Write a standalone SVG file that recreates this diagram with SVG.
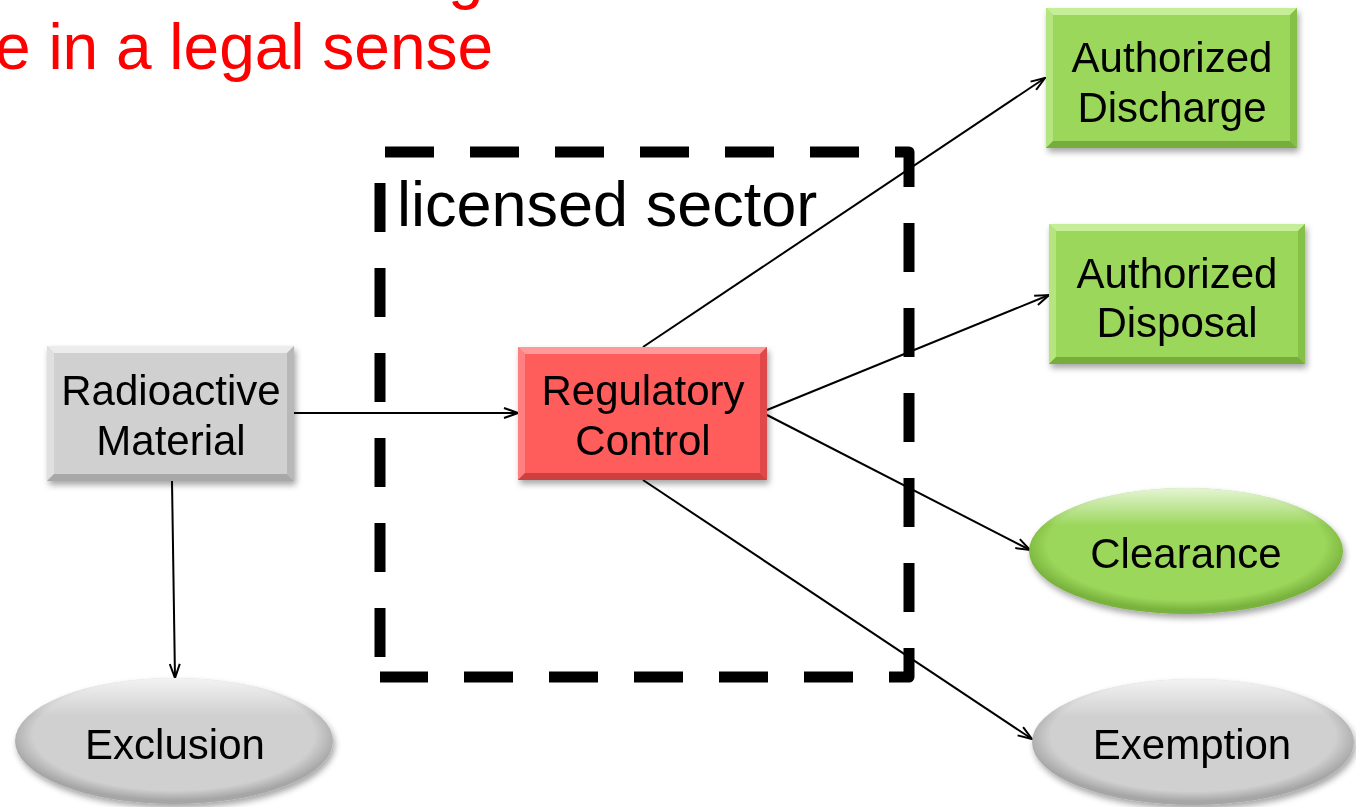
<svg xmlns="http://www.w3.org/2000/svg" width="1356" height="807" viewBox="0 0 1356 807">
  <style>
    .lbl { font-family: "Liberation Sans", Arial, sans-serif; font-size: 42px; fill: #000; text-anchor: middle; }
    .title { font-family: "Liberation Sans", Arial, sans-serif; font-size: 64px; fill: #ff0000; }
    .sector { font-family: "Liberation Sans", Arial, sans-serif; font-size: 63px; fill: #000; }
    .conn { stroke: #000; stroke-width: 2; fill: none; marker-end: url(#arrow); }
  </style>
  <defs>
    <marker id="arrow" viewBox="0 0 16 12" refX="15" refY="6" markerWidth="16" markerHeight="12" markerUnits="userSpaceOnUse" orient="auto">
      <path d="M1,1 L15,6 L1,11" fill="none" stroke="#000" stroke-width="2"/>
    </marker>
    <filter id="shadow" x="-10%" y="-10%" width="125%" height="130%">
      <feDropShadow dx="2" dy="4" stdDeviation="3" flood-color="#000" flood-opacity="0.35"/>
    </filter>
    <radialGradient id="ellGreen" cx="50%" cy="45%" r="52%">
      <stop offset="0%" stop-color="#9bd75a"/>
      <stop offset="85%" stop-color="#9bd75a"/>
      <stop offset="100%" stop-color="#79b23e"/>
    </radialGradient>
    <radialGradient id="ellGray" cx="50%" cy="45%" r="52%">
      <stop offset="0%" stop-color="#d0d0d0"/>
      <stop offset="85%" stop-color="#d0d0d0"/>
      <stop offset="100%" stop-color="#a6a6a6"/>
    </radialGradient>
    <linearGradient id="rimLight" x1="0" y1="0" x2="0" y2="1">
      <stop offset="0%" stop-color="#ffffff" stop-opacity="0.75"/>
      <stop offset="30%" stop-color="#ffffff" stop-opacity="0"/>
    </linearGradient>
  </defs>

  <!-- cropped heading text -->
  <text class="title" x="448" y="-3">g</text>
  <text class="title" x="-5" y="69">e in a legal sense</text>

  <!-- licensed sector boundary -->
  <g id="licensed-sector">
    <path d="M380,677 V152 H909 V677 Z" fill="none" stroke="#000" stroke-width="11" stroke-dasharray="49 36" stroke-dashoffset="65" stroke-linejoin="round"/>
    <text class="sector" x="397" y="226">licensed sector</text>
  </g>

  <!-- connectors -->
  <g id="connectors">
    <line class="conn" x1="294" y1="413" x2="518" y2="413"/>
    <line class="conn" x1="172" y1="481" x2="175" y2="678"/>
    <line class="conn" x1="643" y1="347" x2="1045" y2="78"/>
    <line class="conn" x1="767" y1="410" x2="1049" y2="295"/>
    <line class="conn" x1="767" y1="415" x2="1030" y2="550"/>
    <line class="conn" x1="643" y1="480" x2="1032" y2="739"/>
  </g>

  <!-- Radioactive Material -->
  <g id="radioactive-material" filter="url(#shadow)">
    <rect x="47" y="346" width="247" height="135" fill="#d0d0d0"/>
    <polygon points="47,346 294,346 287,353 54,353" fill="#ececec"/>
    <polygon points="47,346 54,353 54,474 47,481" fill="#e0e0e0"/>
    <polygon points="294,346 294,481 287,474 287,353" fill="#b8b8b8"/>
    <polygon points="47,481 54,474 287,474 294,481" fill="#a8a8a8"/>
    <text class="lbl" x="171" y="405">Radioactive</text>
    <text class="lbl" x="171" y="455">Material</text>
  </g>

  <!-- Regulatory Control -->
  <g id="regulatory-control" filter="url(#shadow)">
    <rect x="518" y="347" width="249" height="133" fill="#ff5b5b"/>
    <polygon points="518,347 767,347 760,354 525,354" fill="#ff9a9a"/>
    <polygon points="518,347 525,354 525,473 518,480" fill="#ff8080"/>
    <polygon points="767,347 767,480 760,473 760,354" fill="#e04848"/>
    <polygon points="518,480 525,473 760,473 767,480" fill="#cc3f3f"/>
    <text class="lbl" x="643" y="405">Regulatory</text>
    <text class="lbl" x="643" y="455">Control</text>
  </g>

  <!-- Authorized Discharge -->
  <g id="authorized-discharge" filter="url(#shadow)">
    <rect x="1046" y="8" width="251" height="140" fill="#9bd75a"/>
    <polygon points="1046,8 1297,8 1290,15 1053,15" fill="#c6ee98"/>
    <polygon points="1046,8 1053,15 1053,141 1046,148" fill="#b5e57f"/>
    <polygon points="1297,8 1297,148 1290,141 1290,15" fill="#86c146"/>
    <polygon points="1046,148 1053,141 1290,141 1297,148" fill="#76ad3c"/>
    <text class="lbl" x="1172" y="72">Authorized</text>
    <text class="lbl" x="1172" y="122">Discharge</text>
  </g>

  <!-- Authorized Disposal -->
  <g id="authorized-disposal" filter="url(#shadow)">
    <rect x="1049" y="224" width="256" height="140" fill="#9bd75a"/>
    <polygon points="1049,224 1305,224 1298,231 1056,231" fill="#c6ee98"/>
    <polygon points="1049,224 1056,231 1056,357 1049,364" fill="#b5e57f"/>
    <polygon points="1305,224 1305,364 1298,357 1298,231" fill="#86c146"/>
    <polygon points="1049,364 1056,357 1298,357 1305,364" fill="#76ad3c"/>
    <text class="lbl" x="1177" y="288">Authorized</text>
    <text class="lbl" x="1177" y="337">Disposal</text>
  </g>

  <!-- Clearance -->
  <g id="clearance" filter="url(#shadow)">
    <ellipse cx="1186" cy="551" rx="157" ry="63" fill="url(#ellGreen)"/>
    <ellipse cx="1186" cy="551" rx="157" ry="63" fill="url(#rimLight)"/>
    <text class="lbl" x="1186" y="568">Clearance</text>
  </g>

  <!-- Exemption -->
  <g id="exemption" filter="url(#shadow)">
    <ellipse cx="1193" cy="742" rx="161" ry="63" fill="url(#ellGray)"/>
    <ellipse cx="1193" cy="742" rx="161" ry="63" fill="url(#rimLight)"/>
    <text class="lbl" x="1192" y="759">Exemption</text>
  </g>

  <!-- Exclusion -->
  <g id="exclusion" filter="url(#shadow)">
    <ellipse cx="174" cy="741" rx="159" ry="63" fill="url(#ellGray)"/>
    <ellipse cx="174" cy="741" rx="159" ry="63" fill="url(#rimLight)"/>
    <text class="lbl" x="175" y="759">Exclusion</text>
  </g>
</svg>
